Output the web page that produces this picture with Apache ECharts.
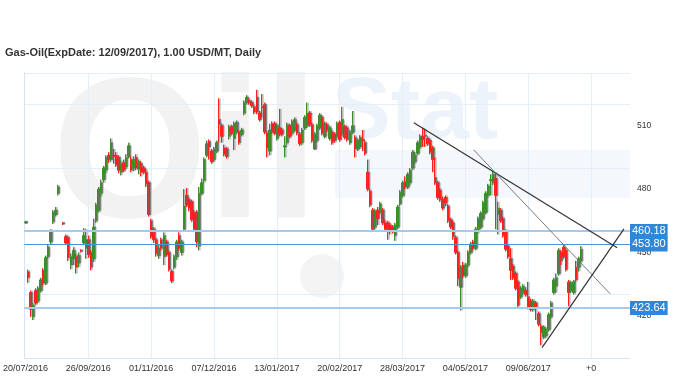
<!DOCTYPE html>
<html>
<head>
<meta charset="utf-8">
<script src="https://cdn.jsdelivr.net/npm/echarts@6/dist/echarts.min.js"></script>
<style>html,body{margin:0;padding:0;background:#fff}#c{width:680px;height:381px}</style>
</head>
<body>
<div id="c"></div>
<script>
// ---- data ----
const titleText = 'Gas-Oil(ExpDate: 12/09/2017), 1.00 USD/MT, Daily';
const slotCount = 241;
const tickIdx = [0, 25, 50, 75, 100, 125, 150, 175, 200, 225];
const tickLabels = ['20/07/2016', '26/09/2016', '01/11/2016', '07/12/2016', '13/01/2017', '20/02/2017', '28/03/2017', '04/05/2017', '09/06/2017', '+0'];
const yLabels = [420, 450, 480, 510];
const levels = [460.18, 453.80, 423.64];
// [open, close, low, high]
const candles = [
[464,464.5,463.5,465],[440.8,438,435.6,441.8],[431,423,419.5,432],[419.5,425,418,426],[432,426,425,433],
[427,433,426,434],[432,437,431,438],[441.5,435.5,434.5,442.5],[435.5,447.5,434.5,448.5],[448,452.5,447,453.5],
[455,460,454,461],[464.5,469,463.5,470],[468,470,467,471.5],[478,481,477,482],null,
[464,463.5,463,464.5],[457.5,454.5,453.5,458.5],[457,447.5,446,458],[444,448,442,449.5],[447,451,444,452.5],
[448,443,440,449.5],[445,448.5,443,450],[451,450.5,450,451.5],[454.5,458,453.5,461.5],[452,456,447,461],
[456,449,447.5,458],[450,443,441.5,451],[447,462,445.5,466],[465,472.5,464,473.5],[470,480,469,481],
[478,483,476.5,484.5],[484.5,490,483,491],[489,495,487.5,496],[496,494,492.5,497.5],[494,502,493,504],
[496,495.5,492,499],[496,491.5,490.5,497.5],[495,489,487.5,496],[488,492,486.5,493.5],[492.5,489,488,494],
[490.5,495,489.5,496.5],[495.5,500.5,494.5,502],[494,489,488,495.5],[490,494,488.5,495.5],[495,490,489,496.5],
[489.5,493,487,494],[492,488,486,493],[490,488,487,491],[488,482.5,481,489.5],[483,468,467,484],
[465,457.5,456.5,466],[461,456,454.5,462],[456,449.5,448,457],[448.5,452,447,453.5],[456,452,451,457],
[448,458,444,459.5],[455,449,448,456],[450,442,441,451],[441,436.5,435.5,442],[443,448,442,449],
[448,455,446.5,456],[458,452,451,459.5],[450,455,448.5,456],[461,472,460,480],[477,472.5,471.5,480.5],
[475,471,469.5,476],[474,465.5,464.5,475],[469,461,460,470],[469,455,452.5,470],[453,478,451,481],
[478,483,477,485],[484,494,483,495],[496,501.5,495,503],[502.5,500,494,503.5],[498,493,492,499],
[494,499,493,500],[498,502,497,503],[513,510.5,502,523],[510,505,502,511],[499.5,496.5,495.5,501],
[499,495.5,494.5,500],[505,509.5,503.5,510.5],[509.5,506.5,505.5,510.5],[504,511,498.5,512],[507,511.5,506,512.5],
[507,502,501,508],[506,508,505,509],[516,521,515,522],[521,523.5,520,524.5],[522,521,520,523],
[521,519.5,518.5,522],[519,516.5,515.5,520],[523.5,516.5,515.5,527],[516,513,512,517],[519,518.5,514,525],
[520,507,506,521],[506.5,499.5,495,507.5],[498,508,496,511],[511,507,506,512],[511,506.5,505.5,512],
[504,510,503,511],[509,506,505,518],[508,506,505,509],[500,500.5,495,505],[502,510.5,501,511.5],
[510,505,504,511],[506.5,512,505.5,513],[508,512.8,507,514],[510.5,506.5,505.5,511.5],[506,501.5,500.5,507],
[502,508,501,509],[509,514,508,515],[510,516,509,521],[516,510.5,509.5,517],[510.5,503,502,511.5],
[499,506,498.5,507],[503,510,502,511],[509,515,508,516],[514,506.5,505.5,515],[505,511,504,512],
[510.5,508,507,511.5],[504,509,503,510],[507,502,501,508],[506,503,502,507],[505,511,504,512],
[511.5,503.5,502.5,512.5],[506,513,505,519],[509.5,504.5,503.5,510.5],[509,503.5,502.5,510],[502,507,501,508],
[507,510,506,517],[504.5,499,495,505.5],[499,503,498,504],[500,504.5,499,505.5],[503.5,503,498,508],
[502,497,496,503],[488,480,479,494],[479,472.5,471.5,480],[470,461,460,471],[462,469.5,461,470.5],
[470,466,463,471.5],[469,473,468,474],[470,464,463,471],[464,461,460,465.5],[464,461,456,465],
[463,460,458.5,464],[462,460.5,459,463],[458,463,455.5,464],[462,471.5,461,472.5],[473,478.5,472,479.5],
[477,483,476,484],[483.5,481,480,486],[481,487,480,488],[483,489,482,490],[490,497.5,489,498.5],
[493,496,492,497.5],[497,502,496,503],[500,505,499,506],[505,503.5,500,509],[505.5,505,500,508.5],
[504,501.5,500.5,505],[503,497.5,496.5,504],[499.5,494,488,500.5],[485.5,483,482,495],[483,476,475,484],
[479.5,475,474,480.5],[475,471,470,476.5],[476,473.5,472,477],[472,465,464,473],[465.5,462,461,466.5],
[464,457.5,456,465],[457,450,449,458],[450,437.5,434,451],[433.5,443,422.5,444],[444,439,438,445.5],
[439,444,438,445],[444,450,443,451],[450,454,449,455],[455,452,451,456],[452,461,451,462],
[460,466,459,467],[462,468.5,461,469.5],[466,473.5,465,474.5],[469,478,468,479],[477,481.5,476,482.5],
[484,484.5,477,487],[483,487,482,488.5],[485,477,461,488],[468,471,458.5,474],[470,465,464,471],
[466,458,457,467],[460,451.5,450.5,461],[453,448,447,454],[447,441.5,437,452],[443.5,438,437,444.5],
[440,433,432,441],[436,425,424,437],[429,433,428,434],[431,434,430,435],[432,430,429,433.5],
[429,424,423,436],[427,423,422,428],[423,427,422,428],[426,423.5,418,427],[421,416,415,422],
[415,412,406,416],[410,414.5,409,415.5],[410.5,413.5,409.5,414.5],[413.5,420.5,412.5,421.5],[419.5,426,418.5,427],
[431,437,430,438],[434,438,431,440],[440,451,439,452],[450,446,444,451],[452.5,448,447,453.5],
[451,442,441,452],[436,431,424.5,437],[432,435.5,431,436.5],[431,436,430,437],[443,437,436,446],
[443,447,441,448],[446,451.5,445,453]
];
// trend lines in slot units [x, price]
const trendUpper = [[155.0, 511.4], [235.9, 452.2]];
const trendMid = [[178.8, 498.6], [233.1, 430.4]];
const trendSupport = [[206.0, 404.9], [238.6, 461.2]];

// ---- build ----
const categories = [];
for (let i = 0; i < slotCount; i++) categories.push(String(i));
const labelMap = {};
tickIdx.forEach((t, k) => { labelMap[t] = tickLabels[k]; });
const seriesData = categories.map((c, i) => {
  const d = candles[i];
  return d ? d : ['-', '-', '-', '-'];
});

const FONT = 'Liberation Sans, Arial, sans-serif';
const GRID_C = '#e4eef8';
const AXIS_C = '#d6e4f2';

const chart = echarts.init(document.getElementById('c'), null, {renderer: 'canvas'});
chart.setOption({
  animation: false,
  backgroundColor: '#fff',
  title: {
    text: titleText, left: 0, top: 42,
    textStyle: {fontFamily: FONT, fontSize: 11, fontWeight: 'bold', color: '#333'}
  },
  graphic: [
    {type: 'text', left: 52, top: 62, z: -10, silent: true,
     style: {text: 'Oil', font: 'bold 200px Liberation Sans', fill: 'rgba(0,0,0,0.05)'}},
    {type: 'rect', shape: {x: 335, y: 150, width: 295, height: 48}, z: -10, silent: true,
     style: {fill: 'rgba(70,140,210,0.06)'}},
    {type: 'text', left: 332, top: 70, z: -10, silent: true,
     style: {text: 'Stat', font: 'bold 88px Liberation Sans', fill: 'rgba(70,140,210,0.10)'}},
    {type: 'circle', shape: {cx: 322, cy: 276, r: 22}, z: -10, silent: true,
     style: {fill: 'rgba(0,0,0,0.045)'}}
  ],
  grid: {left: 22, right: 50, top: 73, bottom: 23},
  xAxis: [
    {
      type: 'category', data: categories, boundaryGap: true,
      axisLine: {show: true, lineStyle: {color: AXIS_C}},
      axisTick: {show: false},
      axisLabel: {
        interval: (i) => labelMap[i] !== undefined,
        formatter: (v, i) => labelMap[i] || '',
        fontFamily: FONT, fontSize: 9, color: '#333', margin: 6
      },
      splitLine: {show: true, alignWithLabel: true, interval: (i) => i > 0 && labelMap[i] !== undefined,
                  lineStyle: {color: GRID_C, width: 1}}
    },
    {type: 'value', min: 0, max: slotCount, show: false}
  ],
  yAxis: [
    {type: 'value', position: 'right', min: 400, max: 535, interval: 30,
     axisLine: {show: true, lineStyle: {color: AXIS_C}}, axisTick: {show: false},
     axisLabel: {show: false}, splitLine: {show: true, lineStyle: {color: GRID_C}}},
    {type: 'value', position: 'right', min: 400, max: 535, interval: 10,
     axisLine: {show: false}, axisTick: {show: false}, splitLine: {show: false},
     axisLabel: {formatter: (v) => yLabels.indexOf(v) >= 0 ? String(v) : '',
                 fontFamily: FONT, fontSize: 8.5, color: '#333', margin: 7}},
    {type: 'value', position: 'left', min: 400, max: 535,
     axisLine: {show: true, lineStyle: {color: AXIS_C}}, axisTick: {show: false},
     axisLabel: {show: false}, splitLine: {show: false}}
  ],
  series: [
    {
      type: 'candlestick', xAxisIndex: 0, yAxisIndex: 0, data: seriesData,
      barWidth: 2,
      itemStyle: {
        color: '#3b8f2a', color0: '#ff1f1f', borderColor: '#3b8f2a', borderColor0: '#ff1f1f',
        borderWidth: 1, shadowColor: 'rgba(110,110,110,0.75)', shadowOffsetX: 1.4, shadowBlur: 0
      },
      markLine: {
        silent: true, symbol: 'none', animation: false,
        label: {
          position: 'end', distance: 0, formatter: (p) => p.value.toFixed(2),
          backgroundColor: '#2f87d8', color: '#fff', fontFamily: FONT, fontSize: 11,
          padding: [2, 2, 1, 2]
        },
        data: [
          {yAxis: levels[0], lineStyle: {color: '#a7c9ec', width: 2, type: 'solid'}},
          {yAxis: levels[1], lineStyle: {color: '#4b93dc', width: 1.2, type: 'solid'}},
          {yAxis: levels[2], lineStyle: {color: '#a7c9ec', width: 2, type: 'solid'}}
        ]
      }
    },
    {type: 'line', xAxisIndex: 1, yAxisIndex: 0, data: trendUpper, symbol: 'none',
     lineStyle: {color: '#333', width: 1.2}, silent: true, z: 5},
    {type: 'line', xAxisIndex: 1, yAxisIndex: 0, data: trendMid, symbol: 'none',
     lineStyle: {color: '#7a7a7a', width: 1}, silent: true, z: 5},
    {type: 'line', xAxisIndex: 1, yAxisIndex: 0, data: trendSupport, symbol: 'none',
     lineStyle: {color: '#333', width: 1.2}, silent: true, z: 5}
  ]
});
</script>
</body>
</html>
